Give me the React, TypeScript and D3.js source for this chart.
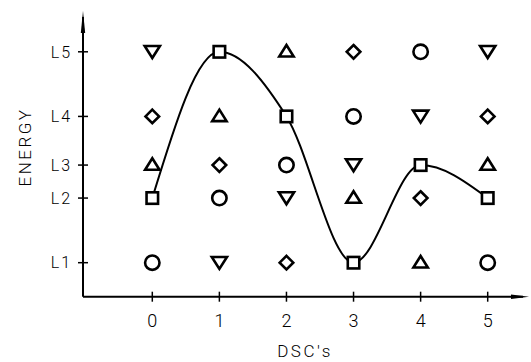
import React from "react";
import * as d3 from "d3";

// Energy levels (relative energy value of each level)
const levelNames = ["L1", "L2", "L3", "L4", "L5"];
const levelValues = [1, 2.9, 3.87, 5.3, 7.2];
const dscTicks = [0, 1, 2, 3, 4, 5];

// Symbol at each (DSC, level): rows L5..L1 listed top-down
const rowL5 = ["tri-down", "square", "tri-up", "diamond", "circle", "tri-down"];
const rowL4 = ["diamond", "tri-up", "square", "circle", "tri-down", "diamond"];
const rowL3 = ["tri-up", "diamond", "circle", "tri-down", "square", "tri-up"];
const rowL2 = ["square", "circle", "tri-down", "tri-up", "diamond", "square"];
const rowL1 = ["circle", "tri-down", "diamond", "square", "tri-up", "circle"];

// Path of the curve through the squares: level per DSC
const curveLevels = ["L2", "L5", "L4", "L1", "L3", "L2"];

const W = 531;
const H = 362;

export default function App() {
  const x = d3.scaleLinear().domain([0, 5]).range([152.3, 487.7]);
  const y = d3.scaleLinear().domain([0, 8.37]).range([296.7, 12]);
  const lv = (name: string) => levelValues[levelNames.indexOf(name)];

  const rows: [string, string[]][] = [
    ["L5", rowL5],
    ["L4", rowL4],
    ["L3", rowL3],
    ["L2", rowL2],
    ["L1", rowL1],
  ];

  const line = d3
    .line<[number, number]>()
    .x((d) => x(d[0]))
    .y((d) => y(d[1]))
    .curve(d3.curveMonotoneX);
  const curvePts: [number, number][] = curveLevels.map((l, i) => [dscTicks[i], lv(l)]);

  const axisX0 = 83;
  const axisY0 = y(0);
  const xEnd = 529;
  const yTop = 11;

  const sw = 2.6;
  const drawSym = (kind: string, cx: number, cy: number, key: string) => {
    const common = { fill: "white", stroke: "#000", strokeWidth: sw, key };
    switch (kind) {
      case "square": {
        const s = 11.5;
        return <rect {...common} x={cx - s / 2} y={cy - s / 2} width={s} height={s} />;
      }
      case "circle":
        return <circle {...common} cx={cx} cy={cy} r={7.2} />;
      case "diamond": {
        const r = 6.8;
        return (
          <path {...common} strokeLinejoin="miter"
            d={`M${cx},${cy - r}L${cx + r},${cy}L${cx},${cy + r}L${cx - r},${cy}Z`} />
        );
      }
      case "tri-up": {
        const b = 7.2, h = 11.5;
        return (
          <path {...common} strokeLinejoin="miter"
            d={`M${cx},${cy - h / 2 - 1}L${cx + b},${cy + h / 2 - 1}L${cx - b},${cy + h / 2 - 1}Z`} />
        );
      }
      case "tri-down": {
        const b = 7.6, h = 11.5;
        return (
          <path {...common} strokeLinejoin="miter"
            d={`M${cx - b},${cy - h / 2}L${cx + b},${cy - h / 2}L${cx},${cy + h / 2 + 0.5}Z`} />
        );
      }
    }
    return null;
  };

  const font = "Roboto, 'Liberation Sans', Arial, sans-serif";

  return (
    <svg width={W} height={H} style={{ position: "absolute", left: 0, top: 0, background: "white" }}>
      <rect width={W} height={H} fill="white" />
      {/* axes */}
      <line x1={axisX0} y1={axisY0} x2={axisX0} y2={yTop + 6} stroke="#000" strokeWidth={2} />
      <line x1={axisX0} y1={axisY0} x2={xEnd - 6} y2={axisY0} stroke="#000" strokeWidth={2} />
      <path d={`M${axisX0},${yTop}L${axisX0 + 2.2},${yTop + 22}L${axisX0 - 2.2},${yTop + 22}Z`} fill="#000" />
      <path d={`M${xEnd},${axisY0}L${xEnd - 18},${axisY0 - 2.3}L${xEnd - 18},${axisY0 + 2.3}Z`} fill="#000" />

      {/* y ticks */}
      {levelNames.map((n, i) => (
        <g key={n}>
          <line x1={axisX0 - 5} x2={axisX0 + 5} y1={y(levelValues[i])} y2={y(levelValues[i])} stroke="#000" strokeWidth={1.5} />
          <text x={72} y={y(levelValues[i])} dy="0.36em" textAnchor="end" fontFamily={font} fontWeight={300}
            fontSize={16} letterSpacing={2}>{n}</text>
        </g>
      ))}
      {/* x ticks */}
      {dscTicks.map((t) => (
        <g key={t}>
          <line x1={x(t)} x2={x(t)} y1={axisY0 - 5} y2={axisY0 + 5} stroke="#000" strokeWidth={1.5} />
          <text x={x(t)} y={327} textAnchor="middle" fontFamily={font} fontWeight={300} fontSize={18}>{t}</text>
        </g>
      ))}

      {/* axis titles */}
      <text x={305} y={357} textAnchor="middle" fontFamily={font} fontWeight={300} fontSize={17} letterSpacing={2.5}>DSC's</text>
      <text transform={`translate(31,147) rotate(-90)`} textAnchor="middle" fontFamily={font} fontWeight={300}
        fontSize={17} letterSpacing={2.5}>ENERGY</text>

      {/* curve */}
      <path d={line(curvePts) || ""} fill="none" stroke="#000" strokeWidth={2} />

      {/* symbols */}
      {rows.map(([lname, kinds]) =>
        kinds.map((k, i) => drawSym(k, x(dscTicks[i]), y(lv(lname)), `${lname}-${i}`))
      )}
    </svg>
  );
}
